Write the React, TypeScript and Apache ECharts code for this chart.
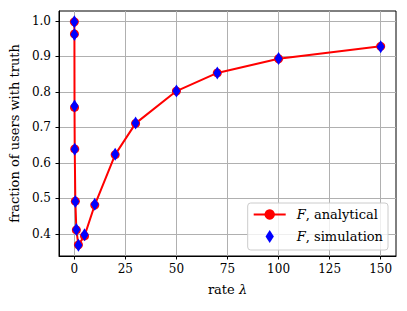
import React, { useEffect, useRef } from "react";
import * as echarts from "echarts";

const rates = [0.01, 0.05, 0.1, 0.2, 0.5, 1, 2, 5, 10, 20, 30, 50, 70, 100, 150];
const analytical = [0.997, 0.963, 0.756, 0.639, 0.492, 0.411, 0.369, 0.394, 0.481, 0.623, 0.711, 0.802, 0.853, 0.893, 0.928];
const simulation = [0.997, 0.961, 0.76, 0.638, 0.491, 0.412, 0.368, 0.397, 0.483, 0.624, 0.712, 0.802, 0.853, 0.894, 0.927];
const xTicks = [0, 25, 50, 75, 100, 125, 150];
const yTicks = [0.4, 0.5, 0.6, 0.7, 0.8, 0.9, 1.0];
const seriesNames = ["analytical", "simulation"];

const FONT = "DejaVu Serif";

export default function App() {
  const ref = useRef<HTMLDivElement>(null);
  useEffect(() => {
    if (!ref.current) return;
    const chart = echarts.init(ref.current, undefined, { renderer: "svg" });
    const rich = { i: { fontStyle: "italic", fontFamily: FONT, fontSize: 13, color: "#000" } };
    chart.setOption({
      animation: false,
      backgroundColor: "#fff",
      grid: {
        left: 59,
        top: 11,
        width: 337,
        height: 245,
        show: true,
        borderColor: "#000",
        borderWidth: 1,
        backgroundColor: "transparent",
      },
      legend: {
        orient: "vertical",
        right: 19,
        top: 203,
        padding: [5, 5, 7, 5],
        itemGap: 9,
        itemWidth: 32,
        itemHeight: 13,
        backgroundColor: "rgba(255,255,255,0.8)",
        borderColor: "#cccccc",
        borderWidth: 1,
        borderRadius: 3,
        textStyle: {
          fontFamily: FONT,
          fontSize: 13,
          color: "#000",
          padding: [0, 0, 0, 6],
          rich,
        },
        formatter: (name: string) => "{i|F}, " + name,
        data: [
          { name: seriesNames[0] },
          { name: seriesNames[1], icon: "path://M0,-1L0.64,0L0,1L-0.64,0Z", itemStyle: { opacity: 1 } },
        ],
      },
      xAxis: {
        type: "value",
        min: -7.5,
        max: 157.5,
        name: "rate {i|λ}",
        nameLocation: "middle",
        nameGap: 27,
        nameTextStyle: { fontFamily: FONT, fontSize: 13, color: "#000", rich },
        axisLine: { show: true, onZero: false, lineStyle: { color: "#000", width: 1 } },
        axisTick: { show: true, inside: false, length: 3.5, customValues: xTicks, lineStyle: { color: "#000", width: 1 } },
        axisLabel: {
          customValues: xTicks,
          margin: 7,
          fontFamily: FONT,
          fontSize: 12,
          color: "#000",
          formatter: (v: number) => String(v),
        },
        splitLine: { show: true, lineStyle: { color: "#b0b0b0", width: 1 } },
      },
      yAxis: {
        type: "value",
        min: 0.3375,
        max: 1.0275,
        name: "fraction of users with truth",
        nameLocation: "middle",
        nameGap: 37,
        nameTextStyle: { fontFamily: FONT, fontSize: 13, color: "#000" },
        axisLine: { show: true, onZero: false, lineStyle: { color: "#000", width: 1 } },
        axisTick: { show: true, inside: false, length: 3.5, customValues: yTicks, lineStyle: { color: "#000", width: 1 } },
        axisLabel: {
          customValues: yTicks,
          margin: 8,
          fontFamily: FONT,
          fontSize: 12,
          color: "#000",
          formatter: (v: number) => v.toFixed(1),
        },
        splitLine: { show: true, lineStyle: { color: "#b0b0b0", width: 1 } },
      },
      series: [
        {
          name: seriesNames[0],
          type: "line",
          data: rates.map((r, i) => [r, analytical[i]]),
          symbol: "circle",
          symbolSize: 9,
          itemStyle: { color: "#ff0000", opacity: 1 },
          lineStyle: { color: "#ff0000", width: 2 },
          z: 2,
        },
        {
          name: seriesNames[1],
          type: "scatter",
          data: rates.map((r, i) => [r, simulation[i]]),
          symbol: "diamond",
          symbolSize: [8, 13],
          itemStyle: { color: "#0000ff", opacity: 1 },
          z: 3,
        },
      ],
    });
    return () => chart.dispose();
  }, []);
  return (
    <div
      ref={ref}
      style={{ position: "fixed", left: 0, top: 0, width: 407, height: 311, background: "#fff" }}
    />
  );
}
